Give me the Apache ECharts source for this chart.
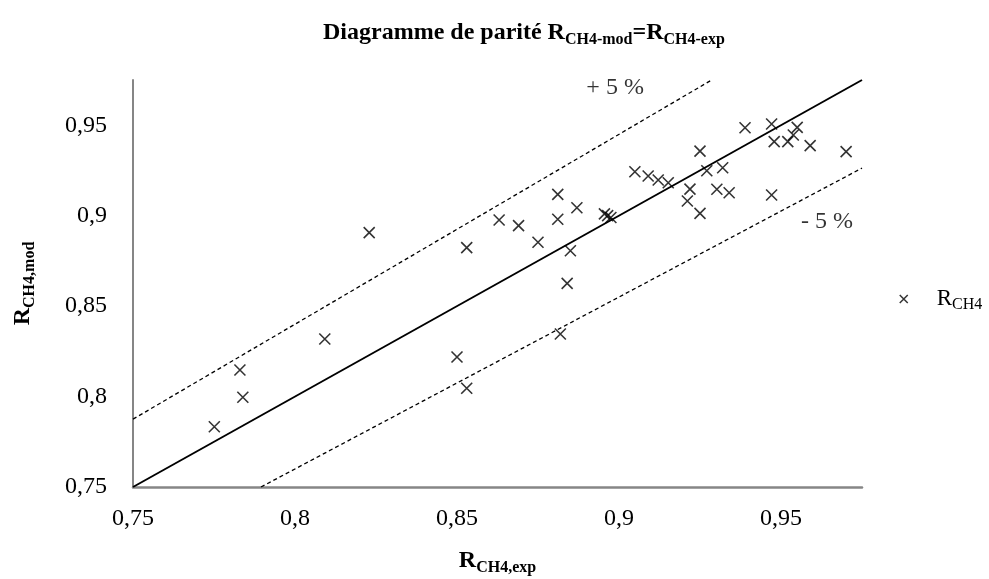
<!DOCTYPE html>
<html>
<head>
<meta charset="utf-8">
<script src="https://cdn.jsdelivr.net/npm/echarts@6/dist/echarts.min.js"></script>
<style>
  html, body { margin: 0; padding: 0; background: #fff; }
  #main { width: 989px; height: 579px; }
</style>
</head>
<body>
<div id="main"></div>
<script>
// R_CH4 exp / mod
var rExp = [0.7751, 0.7830, 0.7839, 0.8092, 0.8229, 0.8500, 0.8530, 0.8530, 0.8630, 0.8690,
            0.8750, 0.8811, 0.8811, 0.8819, 0.8840, 0.8850, 0.8870, 0.8955, 0.8965, 0.8975,
            0.9049, 0.9090, 0.9121, 0.9152, 0.9211, 0.9219, 0.9250, 0.9250, 0.9271, 0.9302,
            0.9320, 0.9340, 0.9389, 0.9471, 0.9471, 0.9479, 0.9521, 0.9538, 0.9550, 0.9590,
            0.9701];
var rMod = [0.7833, 0.8147, 0.7996, 0.8318, 0.8906, 0.8219, 0.8823, 0.8046, 0.8976, 0.8945,
            0.8853, 0.9118, 0.8980, 0.8346, 0.8626, 0.8806, 0.9044, 0.9010, 0.9000, 0.8990,
            0.9243, 0.9219, 0.9197, 0.9182, 0.9081, 0.9147, 0.9357, 0.9013, 0.9248, 0.9146,
            0.9265, 0.9127, 0.9486, 0.9507, 0.9114, 0.9409, 0.9409, 0.9446, 0.9488, 0.9387,
            0.9354];

// parity line and +/- 5 % lines (end points)
var parityLine = [[0.75, 0.75], [0.975, 0.975]];
var plusLine = [[0.75, 0.7875], [0.9286, 0.975]];
var minusLine = [[0.7895, 0.75], [0.975, 0.9263]];

var bandLabels = ['+ 5 %', '- 5 %'];
var bandLabelPos = [[0.8988, 0.9706], [0.9642, 0.8965]];

var axisMin = 0.75, axisMax = 0.975, axisStep = 0.05;

var serif = '"Liberation Serif", "DejaVu Serif", serif';
var cross = 'path://M0,0L10,10M10,0L0,10';

function subRich(size, subSize, bold, shift) {
    return {
        r: { fontFamily: serif, fontSize: size, fontWeight: bold ? 'bold' : 'normal', color: '#000', lineHeight: size + 4 },
        s: { fontFamily: serif, fontSize: subSize, fontWeight: bold ? 'bold' : 'normal', color: '#000',
             lineHeight: subSize, padding: [shift, 0, 0, 0] }
    };
}

function tickFmt(v) {
    if (v > 0.96) return '';
    return String(+v.toFixed(2)).replace('.', ',');
}

var points = rExp.map(function(x, i) { return [x, rMod[i]]; });
var bandData = bandLabels.map(function(t, i) { return { name: t, value: bandLabelPos[i] }; });

var myChart = echarts.init(document.getElementById('main'));

var option = {
    animation: false,
    title: {
        text: '{r|Diagramme de parité R}{s|CH4-mod}{r|=R}{s|CH4-exp}',
        left: 318,
        top: 14,
        textStyle: { rich: subRich(24, 16, true, 13) }
    },
    legend: {
        data: ['RCH4'],
        left: 894,
        top: 280,
        itemWidth: 8,
        itemHeight: 8,
        itemGap: 10,
        formatter: function() { return '{r|R}{s|CH4}'; },
        textStyle: { padding: [0, 0, 0, 24], rich: subRich(23, 16, false, 12) },
        itemStyle: { color: '#000', borderColor: '#000', borderWidth: 1.5 }
    },
    grid: {
        left: 133,
        right: 127,
        top: 80,
        bottom: 92,
        containLabel: false,
        outerBoundsMode: 'none'
    },
    xAxis: {
        type: 'value',
        min: axisMin,
        max: axisMax,
        interval: axisStep,
        name: '{r|R}{s|CH4,exp}',
        nameLocation: 'middle',
        nameGap: 60,
        nameTextStyle: { rich: subRich(24, 16, true, 13) },
        axisLine: { lineStyle: { color: '#868686', width: 2.5 } },
        axisTick: { show: false },
        splitLine: { show: false },
        axisLabel: {
            margin: 20,
            fontFamily: serif,
            fontSize: 24,
            color: '#000',
            formatter: tickFmt
        }
    },
    yAxis: {
        type: 'value',
        min: axisMin,
        max: axisMax,
        interval: axisStep,
        name: '{r|R}{s|CH4,mod}',
        nameLocation: 'middle',
        nameGap: 96,
        nameTextStyle: { rich: subRich(24, 16, true, 13) },
        axisLine: { lineStyle: { color: '#868686', width: 2 } },
        axisTick: { show: false },
        splitLine: { show: false },
        axisLabel: {
            margin: 26,
            fontFamily: serif,
            fontSize: 24,
            color: '#000',
            formatter: tickFmt
        }
    },
    series: [
        {
            name: 'parity',
            type: 'line',
            data: parityLine,
            symbol: 'none',
            silent: true,
            lineStyle: { color: '#000', width: 2 }
        },
        {
            name: 'plus5',
            type: 'line',
            data: plusLine,
            symbol: 'none',
            silent: true,
            lineStyle: { color: '#000', width: 1.3, type: [4, 3] }
        },
        {
            name: 'minus5',
            type: 'line',
            data: minusLine,
            symbol: 'none',
            silent: true,
            lineStyle: { color: '#000', width: 1.3, type: [4, 3] }
        },
        {
            name: 'bands',
            type: 'scatter',
            data: bandData,
            symbolSize: 0,
            silent: true,
            label: {
                show: true,
                position: 'inside',
                formatter: '{b}',
                fontFamily: serif,
                fontSize: 24,
                color: '#000'
            }
        },
        {
            name: 'RCH4',
            type: 'scatter',
            data: points,
            symbol: cross,
            symbolSize: 11,
            z: 5,
            itemStyle: { color: '#000', borderColor: '#000', borderWidth: 1.6 }
        }
    ]
};

myChart.setOption(option);
</script>
</body>
</html>
